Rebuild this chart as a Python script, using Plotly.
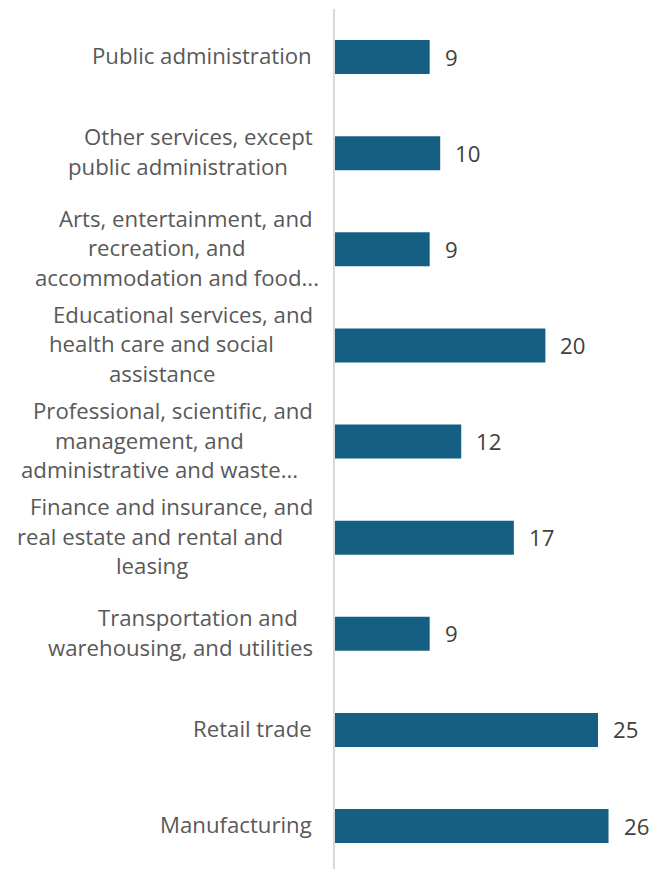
import plotly.graph_objects as go

# Industry categories, top to bottom as displayed (wrapped label lines)
label_lines = [
    ["Public administration"],
    ["Other services, except", "public administration"],
    ["Arts, entertainment, and", "recreation, and", "accommodation and food..."],
    ["Educational services, and", "health care and social", "assistance"],
    ["Professional, scientific, and", "management, and", "administrative and waste..."],
    ["Finance and insurance, and", "real estate and rental and", "leasing"],
    ["Transportation and", "warehousing, and utilities"],
    ["Retail trade"],
    ["Manufacturing"],
]
values = [9, 10, 9, 20, 12, 17, 9, 25, 26]

categories = [" ".join(lines) for lines in label_lines]

# Plot from bottom to top so the first listed category sits at the top
cats_plot = categories[::-1]
vals_plot = values[::-1]

BAR_COLOR = "#156082"
LABEL_COLOR = "#595959"
VALUE_COLOR = "#404040"
FONT = "Open Sans"
FONT_SIZE = 22.2
LINE_STEP = 29.5

W, H = 654, 869
ML, MR, MT, MB = 335, 0, 9, 0
PX_PER_UNIT = 10.52
x_max = (W - ML - MR) / PX_PER_UNIT

# right edge (px from left of page) of each wrapped label line
line_right = [
    [311],
    [312, 287],
    [312, 245, 318],
    [312, 273, 215],
    [312, 243, 297],
    [312, 282, 187],
    [297, 312],
    [311],
    [311],
]

fig = go.Figure(
    go.Bar(
        x=vals_plot,
        y=cats_plot,
        orientation="h",
        marker=dict(color=BAR_COLOR, line=dict(width=0)),
        width=0.354,
        hoverinfo="skip",
    )
)

annotations = []
n = len(categories)
for i, (lines, val) in enumerate(zip(label_lines, values)):
    idx = n - 1 - i
    k = len(lines)
    for j, line in enumerate(lines):
        annotations.append(dict(
            x=0, xref="paper", y=idx, yref="y",
            text=line, showarrow=False,
            xanchor="right", yanchor="middle",
            xshift=line_right[i][j] - ML + 3,
            yshift=((k - 1) / 2 - j) * LINE_STEP + 1.5,
            font=dict(family=FONT, size=FONT_SIZE, color=LABEL_COLOR),
        ))
    annotations.append(dict(
        x=val, xref="x", y=idx, yref="y",
        text=str(val), showarrow=False,
        xanchor="left", yanchor="middle", xshift=13,
        font=dict(family=FONT, size=FONT_SIZE, color=VALUE_COLOR),
    ))

fig.update_layout(
    width=W, height=H,
    margin=dict(l=ML, r=MR, t=MT, b=MB, pad=0),
    paper_bgcolor="white", plot_bgcolor="white",
    showlegend=False,
    annotations=annotations,
    xaxis=dict(range=[0, x_max], visible=False, showgrid=False, zeroline=False),
    yaxis=dict(
        type="category", categoryorder="array", categoryarray=cats_plot,
        range=[-0.447, n - 0.5],
        showticklabels=False, ticks="", showgrid=False, zeroline=False,
        showline=True, linecolor="#D9D9D9", linewidth=2,
    ),
)

fig.write_html("out.html")
